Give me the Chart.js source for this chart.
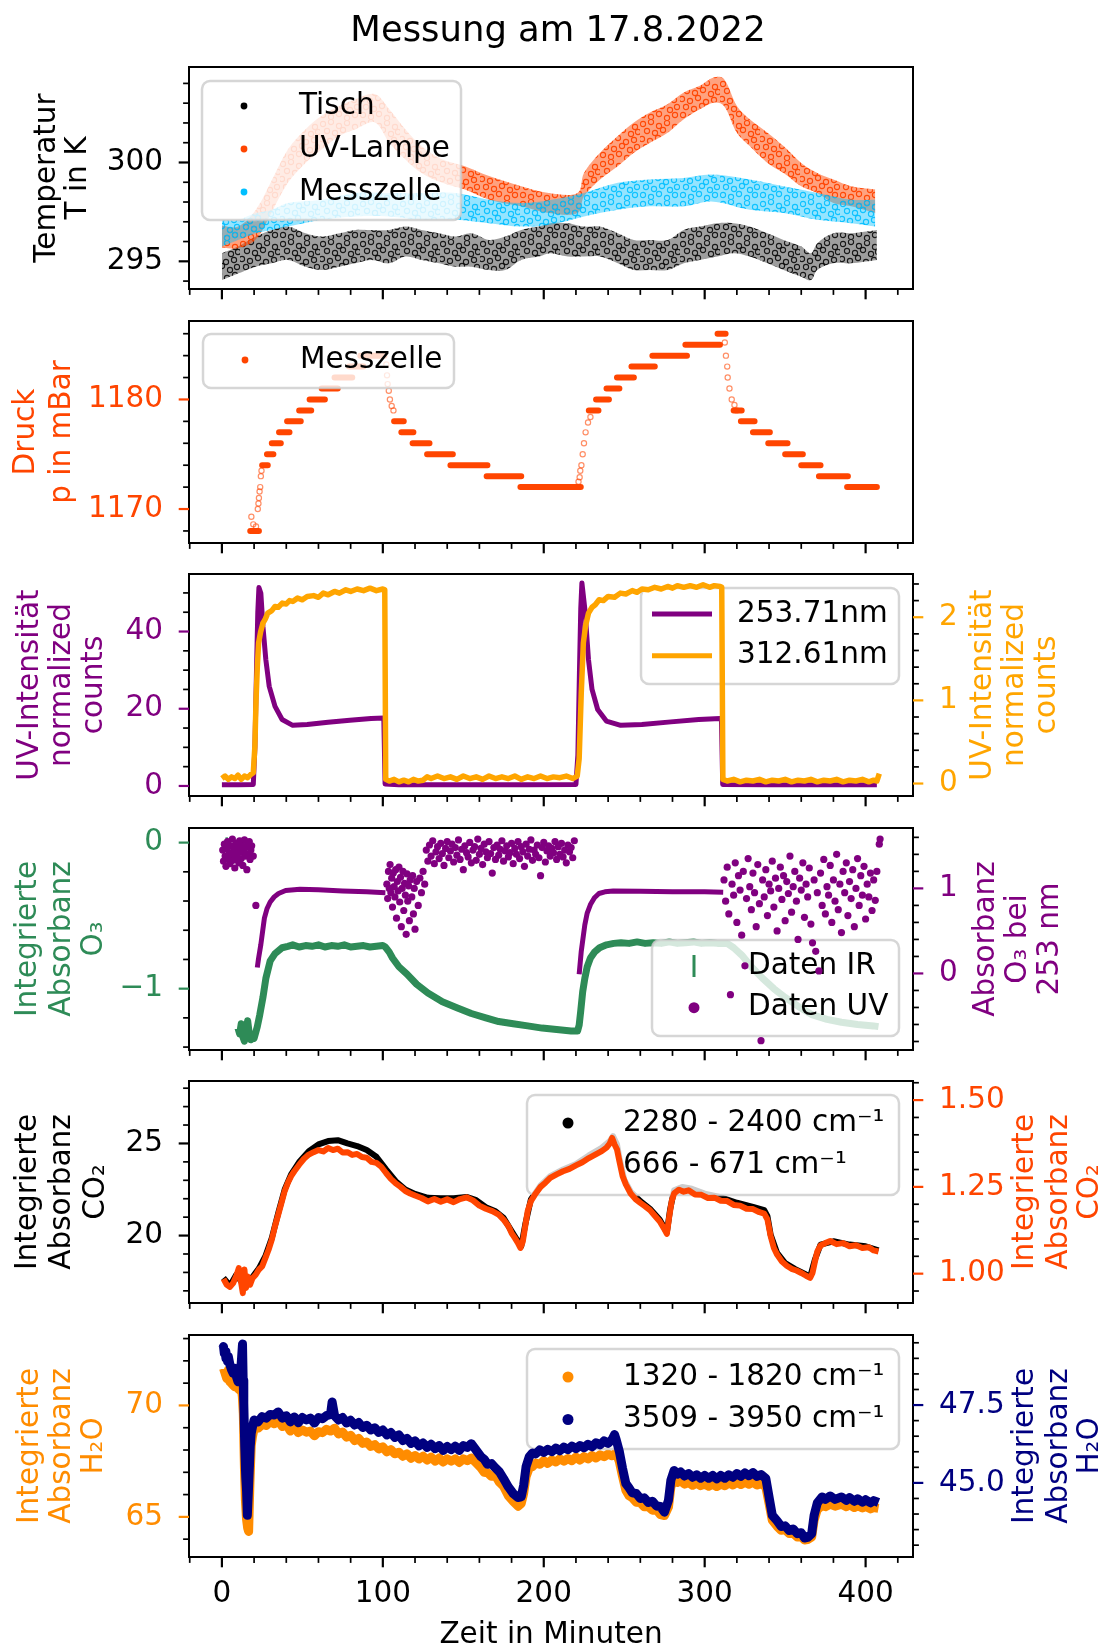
<!DOCTYPE html>
<html>
<head>
<meta charset="utf-8">
<title>Messung am 17.8.2022</title>
<script src="https://cdn.jsdelivr.net/npm/chart.js@4.4.1/dist/chart.umd.min.js"></script>
<style>
  html, body { margin: 0; background: #fff; }
  #wrap { position: relative; width: 1111px; height: 1648px; overflow: hidden; }
  #wrap canvas { position: absolute; left: 0; }
</style>
</head>
<body>
<div id="wrap"></div>
<script>
// ---- data ----
const xTickLabels = [0, 100, 200, 300, 400];

// Temperatur: [t, obere Kante, untere Kante] of each scatter band
const tisch = [[0,295.41,294.05],[10,295.75,294.39],[21,296.25,294.73],[31,296.59,294.9],[41,296.76,295.07],[52,296.42,294.73],[62,296.25,294.56],[73,296.42,294.73],[83,296.59,294.9],[93,296.59,295.07],[104,296.59,294.9],[114,296.76,295.24],[124,296.59,295.07],[135,296.42,294.9],[145,296.25,294.73],[155,296.42,294.73],[166,296.08,294.56],[176,296.25,294.56],[186,296.59,295.07],[197,296.76,295.24],[204,296.93,295.41],[215,296.93,295.24],[225,296.76,295.24],[235,296.76,295.24],[246,296.42,294.9],[256,296.08,294.56],[266,296.08,294.56],[277,296.08,294.56],[287,296.59,294.9],[297,296.76,295.07],[308,296.93,295.24],[318,296.93,295.41],[328,296.76,295.24],[339,296.42,294.9],[349,296.08,294.56],[360,295.75,294.22],[366,295.41,294.05],[370,295.92,294.56],[380,296.42,294.9],[391,296.42,294.9],[407,296.59,295.07]];
const uvLampe = [[0,296.8,295.7],[10,296.76,295.66],[21,297.6,296.1],[31,299.1,297.5],[41,300.66,298.97],[52,301.68,299.98],[62,302.36,300.66],[73,302.86,301.34],[83,303.2,301.68],[95,303.46,302.02],[104,302.69,301.0],[114,301.68,300.15],[124,300.83,299.47],[137,300.15,298.97],[151,299.81,298.63],[166,299.31,298.12],[186,298.8,297.78],[203,298.46,297.44],[221,298.46,297.44],[225,299.47,298.29],[235,300.49,299.14],[246,301.34,299.81],[256,302.02,300.49],[266,302.53,301.0],[277,302.95,301.51],[287,303.54,302.19],[297,303.88,302.69],[306,304.31,303.03],[312,304.22,302.86],[320,302.86,301.51],[328,302.19,300.83],[339,301.51,299.98],[349,300.83,299.47],[360,299.98,298.8],[370,299.47,298.46],[380,299.14,297.95],[391,298.8,297.78],[406,298.63,297.44]];
const messzelleT = [[0,297.1,295.75],[10,297.1,296.08],[21,297.44,296.42],[31,297.61,296.59],[41,297.95,296.76],[62,298.12,297.1],[83,298.46,297.27],[104,298.46,297.27],[124,298.46,297.1],[145,298.46,297.1],[166,298.12,296.93],[186,297.95,296.76],[204,298.1,296.85],[225,298.46,297.27],[246,298.97,297.61],[266,299.14,297.78],[287,299.22,297.78],[304,299.39,298.03],[328,299.14,297.61],[349,298.8,297.44],[370,298.46,297.1],[391,298.12,296.93],[406,298.12,296.76]];

// Druck: [Stufe mBar, von t, bis t] and the sparse points between steps
const druckStufen = [[1168,17.6,23],[1174,25,28.5],[1175,28,32],[1176,31,36.6],[1177,35.5,42],[1178,40.5,49],[1179,48,55.5],[1180,54.5,64],[1181,62,72],[1182,70,81],[1183,79,88],[1184,86,101],[1178,107,113],[1177,111.5,119],[1176,118.5,129],[1175,127.5,143.5],[1174,142,165],[1173,164.5,186],[1172,185.5,223],[1179,228,234],[1180,232.5,240.5],[1181,239,247],[1182,245.5,256],[1183,254.5,269],[1184,267.5,289],[1185,288,309.5],[1186,308,313],[1179,318,323],[1178,322.5,331],[1177,330,340.5],[1176,339.5,351.5],[1175,350,361],[1174,360,372],[1173,371,389],[1172,388.5,407]];
const druckUebergang = [[18.3,1169.3],[19.5,1168.6],[21.2,1168.4],[22.3,1170],[22.7,1170.5],[23,1171],[23.4,1171.6],[23.8,1172],[24.2,1173],[24.6,1173.5],[102.2,1183.2],[102.6,1182.2],[103,1181.4],[103.7,1180.8],[104.4,1180],[105.5,1179.4],[106.6,1179],[221.6,1172.5],[222.3,1172.9],[222.7,1173.5],[223.4,1174],[224.2,1175],[225,1176],[226,1177],[227.5,1177.9],[229,1178.4],[312.5,1185.2],[313.2,1184],[314,1183],[314.3,1182],[315.4,1181],[316.8,1180],[318.5,1179.5],[319.8,1179]];

// UV-Intensität
const uv253 = [[0,0.3],[10,0.3],[19.5,0.4],[20.5,10],[21.5,30],[22.3,45],[23,51.4],[24.2,49.9],[25.5,41.3],[27.3,32.7],[29.4,25.8],[33,20.6],[37.4,17.2],[44,15.7],[53,15.9],[66,16.5],[79.5,17],[92.7,17.5],[100.6,17.6],[101.4,0.5],[110,0.3],[150,0.3],[190,0.3],[220,0.4],[221.2,8],[222.2,30],[223,46],[223.7,52.6],[225.6,45.6],[227.8,32.7],[230,25],[233.5,19.8],[238.9,16.8],[247.8,15.7],[261,15.9],[279,16.6],[296.3,17.2],[309.6,17.5],[310.4,17.5],[311.2,0.4],[340,0.3],[370,0.3],[407,0.3]];
const uv312 = [[0,0.06],[2,0.09],[4,0.05],[6,0.08],[8,0.06],[10,0.1],[12,0.05],[14,0.09],[16,0.07],[18,0.11],[19.5,0.13],[20.5,0.45],[21.2,1.0],[22,1.4],[22.8,1.69],[24,1.82],[25.5,1.93],[27,1.98],[28.5,2.05],[31,2.08],[33,2.13],[35,2.12],[37.5,2.17],[40,2.16],[42,2.2],[44,2.19],[47,2.23],[50,2.21],[53,2.25],[57,2.26],[60,2.24],[63,2.29],[66,2.27],[70,2.31],[73,2.29],[77,2.33],[80,2.31],[84,2.34],[88,2.32],[92,2.35],[96,2.32],[100,2.34],[101.2,2.33],[101.8,0.05],[104,0.03],[107,0.05],[110,0.02],[113,0.04],[116,0.02],[119,0.05],[122,0.03],[125,0.04],[127.5,0.08],[130,0.06],[134,0.09],[138,0.06],[142,0.08],[146,0.05],[150,0.09],[154,0.06],[158,0.08],[162,0.05],[166,0.09],[170,0.06],[174,0.08],[178,0.06],[182,0.09],[186,0.05],[190,0.08],[194,0.06],[198,0.09],[202,0.06],[206,0.08],[210,0.07],[214,0.09],[218,0.06],[220.8,0.09],[222,0.3],[223.3,1.09],[224.6,1.69],[226,1.9],[227.8,2.05],[230,2.12],[232,2.15],[234.4,2.21],[237,2.2],[240,2.25],[244,2.24],[247.6,2.29],[251,2.28],[255,2.32],[258,2.3],[261,2.34],[265,2.33],[269,2.36],[273,2.34],[277,2.37],[280,2.35],[283,2.38],[287,2.36],[291,2.38],[295,2.36],[299,2.39],[303,2.36],[306,2.38],[309.6,2.37],[310.6,2.36],[311.3,0.05],[314,0.03],[318,0.05],[322,0.02],[326,0.04],[330,0.03],[334,0.05],[338,0.02],[342,0.04],[346,0.03],[350,0.05],[354,0.02],[358,0.04],[362,0.03],[366,0.05],[370,0.02],[374,0.04],[378,0.03],[382,0.05],[386,0.02],[390,0.04],[394,0.03],[398,0.05],[402,0.02],[405,0.04],[407,0.03],[408.5,0.12]];

// O3
const o3IR = [[10,-1.27],[11,-1.31],[12,-1.24],[13,-1.33],[14,-1.36],[15,-1.3],[16,-1.22],[17,-1.31],[18,-1.35],[19,-1.32],[20,-1.34],[21,-1.3],[22,-1.26],[23.5,-1.18],[25.5,-1.06],[27.3,-0.93],[30,-0.81],[33,-0.76],[37.4,-0.72],[41,-0.71],[44,-0.7],[48,-0.715],[52,-0.705],[56,-0.71],[60,-0.7],[64,-0.715],[68,-0.705],[72,-0.71],[76,-0.7],[80,-0.715],[84,-0.71],[88,-0.705],[92,-0.715],[96,-0.71],[100,-0.705],[101.6,-0.715],[104,-0.75],[106,-0.79],[110,-0.85],[115,-0.9],[121,-0.97],[128,-1.03],[137,-1.09],[146,-1.13],[155,-1.17],[164,-1.2],[172,-1.225],[181,-1.24],[190,-1.255],[199,-1.27],[208,-1.28],[217,-1.29],[221,-1.29],[222,-1.25],[223,-1.15],[224.2,-1.02],[225.5,-0.93],[227,-0.85],[229,-0.79],[231.5,-0.75],[234.7,-0.72],[239,-0.7],[243.5,-0.69],[248,-0.685],[253,-0.69],[258,-0.68],[263,-0.69],[268,-0.685],[273,-0.69],[278,-0.68],[283,-0.69],[288,-0.685],[293,-0.68],[298,-0.69],[303,-0.685],[308,-0.69],[314,-0.69],[318,-0.72],[323,-0.77],[329,-0.85],[336,-0.93],[343,-1.0],[350,-1.06],[358,-1.12],[367,-1.18],[376,-1.21],[385,-1.23],[395,-1.245],[405,-1.255],[408,-1.26]];
const o3IRrest = [[3,-0.005]];
const o3UVglatt = [[22,0.07],[22.8,0.18],[24.2,0.34],[26.4,0.65],[28,0.76],[30,0.84],[32.5,0.9],[35.2,0.94],[39.6,0.975],[48.5,0.99],[60,0.985],[75,0.97],[90,0.96],[101.6,0.95],[101.8,null],[222,-0.01],[223.3,0.26],[225.5,0.57],[227,0.71],[229,0.81],[231.5,0.89],[234.3,0.94],[238,0.96],[243.2,0.97],[260,0.965],[280,0.96],[300,0.96],[311.5,0.955]];
const o3UVstreu = [
  [0.5,1.45],[1,1.32],[1.5,1.52],[2,1.38],[2.5,1.26],[3,1.47],[3.5,1.55],[4,1.35],[4.5,1.42],[5,1.29],[5.5,1.5],[6,1.4],[6.5,1.58],[7,1.33],[7.5,1.46],[8,1.24],[8.5,1.41],[9,1.53],[9.5,1.37],[10,1.47],[10.5,1.3],[11,1.56],[11.5,1.43],[12,1.35],[12.5,1.5],[13,1.27],[13.5,1.44],[14,1.57],[14.5,1.38],[15,1.48],[15.5,1.22],[16,1.52],[16.5,1.4],[17,1.55],[17.5,1.34],[18,1.45],[18.5,1.5],[19.5,1.38],[21.1,0.8],
  [102.5,1.05],[103,0.88],[103.5,1.2],[104,1.0],[104.5,1.28],[105,0.95],[105.5,1.12],[106,0.78],[106.5,1.18],[107,1.02],[107.5,0.9],[108,1.22],[108.5,0.65],[109,1.08],[109.5,0.97],[110,1.25],[110.5,0.84],[111,1.13],[111.5,0.55],[112,1.0],[112.5,1.2],[113,0.74],[113.5,1.06],[114,0.92],[114.5,0.46],[115,1.17],[115.5,0.85],[116,1.03],[116.5,0.62],[117,1.1],[118,0.9],[118.5,1.15],[119,0.7],[119.5,1.0],[120,0.52],[121,1.08],[122,0.8],[123,1.12],[124,0.95],[125,1.2],[126,1.05],
  [127,1.45],[128,1.32],[129,1.51],[130,1.38],[131,1.56],[132,1.29],[133,1.43],[134,1.49],[135,1.35],[136,1.53],[137,1.41],[138,1.27],[139,1.47],[140,1.55],[141,1.36],[142,1.44],[143,1.52],[144,1.31],[145,1.48],[146,1.39],[147,1.57],[148,1.34],[149,1.46],[150,1.22],[151,1.5],[152,1.42],[153,1.37],[154,1.54],[155,1.3],[156,1.45],[157,1.49],[158,1.33],[159,1.58],[160,1.4],[161,1.47],[162,1.28],[163,1.52],[164,1.43],[165,1.36],[166,1.55],[167,1.41],[168,1.18],[169,1.48],[170,1.34],[171,1.51],[172,1.39],[173,1.46],[174,1.56],[175,1.32],[176,1.44],[177,1.5],[178,1.37],[179,1.42],[180,1.53],[181,1.29],[182,1.47],[183,1.4],[184,1.55],[185,1.35],[186,1.49],[187,1.43],[188,1.26],[189,1.52],[190,1.38],[191,1.46],[192,1.57],[193,1.33],[194,1.45],[195,1.4],[196,1.51],[197,1.36],[198,1.15],[199,1.48],[200,1.54],[201,1.31],[202,1.44],[203,1.5],[204,1.38],[205,1.47],[206,1.42],[207,1.55],[208,1.34],[209,1.49],[210,1.4],[211,1.53],[212,1.37],[213,1.45],[214,1.3],[215,1.51],[216,1.43],[217,1.48],[218,1.36],[219,1.56],
  [312,1.1],[313,0.85],[314,1.25],[315,0.7],[316,-0.25],[317,1.05],[318,0.92],[319,1.3],[320,0.6],[321,1.15],[322,0.98],[323,0.45],[324,1.2],[325,0.09],[326,0.88],[327,1.35],[328,1.02],[329,0.75],[330,1.18],[331,0.95],[332,0.55],[333,1.28],[334,0.82],[335,-0.79],[336,1.1],[337,0.9],[338,1.22],[339,0.68],[340,1.05],[341,0.97],[342,1.32],[343,0.78],[344,1.12],[345,0.5],[346,1.0],[347,1.25],[348,0.87],[349,1.15],[350,0.62],[351,1.08],[352,0.94],[353,1.38],[354,0.72],[355,1.02],[356,1.2],[357,0.85],[358,0.4],[359,1.12],[360,0.98],[361,1.3],[362,0.66],[363,1.05],[364,0.9],[365,1.24],[366,0.58],[367,0.36],[368,1.1],[369,0.26],[370,0.95],[371,0.03],[372,1.18],[373,0.8],[374,1.34],[375,0.7],[376,1.02],[377,0.92],[378,1.27],[379,0.6],[380,1.1],[381,0.85],[382,1.4],[383,0.75],[384,1.05],[385,0.48],[386,1.2],[387,0.95],[388,1.3],[389,0.68],[390,1.08],[391,0.88],[392,1.22],[393,0.55],[394,1.0],[395,1.35],[396,0.8],[397,1.15],[398,0.92],[399,1.26],[400,0.64],[401,1.05],[402,0.9],[403,1.18],[404,0.74],[405,1.1],[406,0.86],[407,1.2],[408.5,1.52],[409,1.58]
];

// CO2
const co2Band1 = [[1,17.7],[5,17.28],[9,17.88],[12,17.5],[15,17.25],[19,17.75],[23,18.22],[27,18.88],[31,19.87],[35,21.23],[39,22.5],[43,23.32],[48,23.99],[54,24.58],[60,24.95],[66,25.13],[72,25.18],[78,25.0],[84,24.86],[90,24.64],[96,24.28],[102,23.59],[108,22.95],[114,22.5],[120,22.26],[128,22.05],[136,22.03],[144,22.03],[152,22.1],[158,21.92],[164,21.54],[170,21.32],[175,20.96],[180,20.24],[184,19.69],[186,19.42],[188.5,20.6],[192,21.96],[198,22.72],[204,23.22],[212,23.59],[220,23.89],[228,24.35],[236,24.76],[241,25.13],[243,25.4],[245.5,24.95],[247,24.22],[250,23.04],[254,22.39],[260,21.87],[266,21.45],[272,20.87],[276.5,20.18],[278.5,21.41],[281,22.46],[286,22.64],[292,22.54],[300,22.28],[310,22.08],[320,21.78],[330,21.56],[337,21.38],[339,21.05],[341,20.05],[345,19.06],[350,18.51],[356,18.19],[362,17.93],[365.5,17.75],[368.5,18.7],[372,19.51],[380,19.69],[390,19.51],[400,19.42],[408,19.2]];
const co2Band2 = [[1,0.985],[3,0.968],[5,0.962],[7,0.973],[9,0.994],[10.5,1.016],[12,0.973],[13,0.944],[14,1.012],[15,0.959],[16,0.992],[17.5,0.968],[19,0.987],[21,0.997],[23,1.012],[25,1.021],[27,1.045],[29,1.069],[31,1.098],[33,1.137],[35,1.17],[37,1.204],[39,1.238],[41,1.262],[43,1.281],[45,1.295],[48,1.314],[51,1.331],[54,1.343],[57,1.35],[60,1.356],[63,1.352],[66,1.362],[69,1.356],[72,1.36],[75,1.349],[78,1.35],[81,1.342],[84,1.345],[87,1.336],[90,1.334],[93,1.322],[96,1.319],[99,1.308],[102,1.29],[105,1.273],[108,1.26],[111,1.25],[114,1.238],[117,1.231],[120,1.225],[124,1.218],[128,1.208],[132,1.215],[136,1.207],[140,1.214],[144,1.206],[148,1.215],[152,1.22],[156,1.211],[160,1.196],[164,1.187],[168,1.18],[172,1.17],[175,1.156],[178,1.137],[180,1.117],[182,1.103],[184,1.088],[185.5,1.074],[187,1.093],[188.5,1.137],[190,1.18],[192,1.209],[195,1.231],[198,1.25],[201,1.262],[204,1.276],[208,1.286],[212,1.295],[216,1.302],[220,1.312],[224,1.321],[228,1.333],[232,1.343],[236,1.353],[239,1.363],[241,1.375],[242.5,1.391],[244,1.372],[245.5,1.358],[247,1.324],[249,1.281],[251,1.257],[254,1.231],[257,1.215],[260,1.204],[263,1.194],[266,1.183],[269,1.167],[272,1.151],[274.5,1.132],[276.5,1.115],[278,1.165],[279.5,1.209],[281,1.231],[284,1.242],[287,1.236],[290,1.24],[294,1.228],[298,1.227],[302,1.218],[306,1.219],[310,1.21],[314,1.209],[318,1.198],[322,1.196],[326,1.187],[330,1.186],[334,1.177],[337,1.173],[339,1.156],[341,1.108],[343,1.074],[345,1.055],[348,1.035],[351,1.023],[354,1.014],[357,1.009],[360,1.002],[363,0.994],[365.5,0.988],[367,1.002],[368.5,1.035],[370,1.064],[372,1.081],[375,1.088],[378,1.094],[382,1.085],[386,1.088],[390,1.079],[394,1.082],[398,1.074],[402,1.076],[405,1.067],[408,1.064]];

// H2O
const h2oBand1 = [[1,71.66],[2,71.44],[3,71.21],[4,71.59],[5,71.06],[6,70.99],[7,70.91],[8,70.84],[9,71.06],[10,70.76],[11,70.69],[12,70.84],[12.7,70.39],[13.3,69.64],[14,67.2],[14.6,65.75],[15.3,64.9],[16,64.5],[16.6,64.35],[17.4,66.5],[18.2,68.2],[19,68.6],[20,68.95],[22.5,68.98],[25,69.15],[27.5,69.1],[30,69.28],[32.5,69.18],[35,69.36],[37.5,69.05],[40,69.16],[42.5,68.85],[45,69.05],[47.5,68.78],[50,68.9],[52.5,68.8],[55,68.85],[57.5,68.64],[60,68.82],[62.5,68.78],[65,68.93],[67.5,68.85],[70,68.98],[72.5,68.72],[75,68.8],[77.5,68.58],[80,68.66],[82.5,68.42],[85,68.52],[87.5,68.3],[90,68.36],[92.5,68.16],[95,68.24],[97.5,68.05],[100,68.14],[102.5,67.92],[105,68.02],[107.5,67.83],[110,67.9],[112.5,67.72],[115,67.83],[117.5,67.63],[120,67.75],[122.5,67.6],[125,67.72],[127.5,67.55],[130,67.68],[132.5,67.5],[135,67.64],[137.5,67.46],[140,67.6],[142.5,67.5],[145,67.6],[147.5,67.44],[150,67.6],[152.5,67.52],[155,67.64],[158,67.42],[161,67.2],[163,67.0],[165,66.98],[167.5,66.82],[170,66.85],[172.5,66.55],[175,66.38],[178,65.95],[181,65.7],[184,65.48],[186,65.6],[187.5,66.05],[189,66.8],[191,67.2],[193,67.26],[195,67.42],[197.5,67.36],[200,67.52],[202.5,67.4],[205,67.55],[207.5,67.46],[210,67.6],[212.5,67.5],[215,67.62],[217.5,67.52],[220,67.68],[222.5,67.55],[225,67.7],[227.5,67.6],[230,67.75],[232.5,67.64],[235,67.78],[237.5,67.7],[240,67.82],[242.5,67.74],[245,67.88],[247,67.47],[249,66.8],[251,66.2],[253,65.95],[255,65.86],[257.5,65.66],[260,65.64],[262.5,65.45],[265,65.46],[267.5,65.3],[270,65.32],[272.5,65.1],[275,65.06],[277.5,65.45],[279,66.35],[281,66.7],[283,66.55],[285,66.62],[287.5,66.47],[290,66.55],[292.5,66.42],[295,66.52],[297.5,66.4],[300,66.47],[302.5,66.38],[305,66.47],[307.5,66.36],[310,66.46],[312.5,66.4],[315,66.52],[317.5,66.43],[320,66.55],[322.5,66.45],[325,66.55],[327.5,66.46],[330,66.55],[332.5,66.43],[335,66.5],[338,66.35],[340,65.6],[342,64.85],[345,64.58],[347.5,64.4],[350,64.42],[352.5,64.25],[355,64.27],[357.5,64.1],[360,64.12],[362,63.96],[364,63.98],[366.5,64.1],[368,64.85],[370,65.33],[373,65.52],[375,65.46],[378,65.57],[381,65.48],[385,65.57],[388,65.46],[390,65.55],[393,65.42],[395,65.5],[398,65.4],[400,65.47],[403,65.36],[405,65.42],[408,65.38]];
const h2oBand2 = [[0.5,49.32],[1,49.38],[1.5,49.16],[2,49.22],[2.5,49.0],[3,49.11],[3.5,48.9],[4,49.06],[5,48.79],[6,48.63],[7,48.52],[8,48.68],[9,48.41],[10,48.25],[11,48.52],[12,48.84],[12.8,49.46],[13.2,48.3],[13.6,47.55],[14.2,46.16],[14.8,45.19],[15.3,44.76],[15.8,43.96],[16.4,44.66],[17,45.41],[17.6,46.16],[18.2,46.59],[19,46.8],[20,47.02],[22.5,46.96],[25,47.13],[27.5,47.08],[30,47.2],[32.5,47.18],[35,47.28],[37.5,47.08],[40,47.16],[42.5,46.96],[45,47.12],[47.5,46.93],[50,47.1],[52.5,47.02],[55,47.08],[57.5,46.92],[60,47.1],[62.5,47.06],[65,47.16],[67.5,47.2],[68.5,47.6],[70,47.16],[72.5,47.02],[75,47.1],[77.5,46.92],[80,47.01],[82.5,46.86],[85,46.94],[87.5,46.78],[90,46.85],[92.5,46.7],[95,46.77],[97.5,46.62],[100,46.7],[102.5,46.54],[105,46.62],[107.5,46.46],[110,46.54],[112.5,46.36],[115,46.43],[117.5,46.27],[120,46.35],[122.5,46.19],[125,46.28],[127.5,46.14],[130,46.24],[132.5,46.1],[135,46.2],[137.5,46.04],[140,46.17],[142.5,46.07],[145,46.18],[147.5,46.04],[150,46.2],[152.5,46.14],[155,46.26],[158,46.05],[161,45.84],[163,45.76],[165,45.6],[167.5,45.62],[170,45.48],[172.5,45.35],[175,45.14],[178,44.87],[181,44.66],[184,44.53],[186,44.55],[187.5,44.92],[189,45.52],[191,45.84],[193,45.96],[195,45.93],[197.5,46.06],[200,45.98],[202.5,46.08],[205,46.0],[207.5,46.12],[210,46.03],[212.5,46.15],[215,46.07],[217.5,46.18],[220,46.1],[222.5,46.2],[225,46.13],[227.5,46.24],[230,46.16],[232.5,46.29],[235,46.22],[237.5,46.35],[240,46.27],[242.5,46.4],[244,46.55],[245,46.39],[247,46.0],[249,45.46],[251,44.98],[253,44.84],[255,44.68],[257.5,44.66],[260,44.5],[262.5,44.52],[265,44.37],[267.5,44.41],[270,44.26],[272.5,44.24],[275,44.06],[277.5,44.44],[279,45.09],[281,45.4],[283,45.28],[285,45.35],[287.5,45.22],[290,45.3],[292.5,45.18],[295,45.26],[297.5,45.15],[300,45.24],[302.5,45.15],[305,45.24],[307.5,45.13],[310,45.24],[312.5,45.15],[315,45.26],[317.5,45.18],[320,45.3],[322.5,45.21],[325,45.32],[327.5,45.23],[330,45.33],[332.5,45.21],[335,45.27],[338,45.14],[340,44.55],[342,43.96],[345,43.78],[347.5,43.6],[350,43.62],[352.5,43.47],[355,43.52],[357.5,43.37],[360,43.4],[362,43.23],[364,43.25],[366.5,43.37],[368,43.96],[370,44.36],[373,44.55],[375,44.47],[378,44.58],[381,44.47],[385,44.55],[388,44.44],[390,44.53],[393,44.41],[395,44.49],[398,44.38],[400,44.46],[403,44.36],[405,44.43],[408,44.37]];

// ---- layout & styles ----
const FS = 29.5;
Chart.defaults.font.family = "'DejaVu Sans', sans-serif";
Chart.defaults.font.size = FS;
Chart.defaults.color = '#000';

const W = 1111, AREA_H = 222, LEFT_W = 189, RIGHT_W = 198;
const PANEL_TOP = [67, 321, 574, 828, 1081, 1335];
const X_MIN = -20.45, X_MAX = 429.45;
const FONT = '"DejaVu Sans", sans-serif';
const ORANGERED = '#ff4500', SKY = '#00bfff', PURPLE = '#800080', ORANGE = '#ffa500',
      SEAGREEN = '#2e8b57', DARKORANGE = '#ff8c00', NAVY = '#000080';
const wrap = document.getElementById('wrap');
const DECO = {};

const xy = (rows, k = 1) => rows.map(r => ({ x: r[0], y: r[k] }));
const minus = v => (v < 0 ? '\u2212' : '') + Math.abs(v);

// small tile of hollow rings, so the bands look like dense scatter
const RING_SPOTS = [[3,4],[11,2],[19,6],[27,3],[35,7],[7,11],[15,13],[23,10],[31,14],[38,12],[2,19],[10,21],[18,18],[26,22],[34,20],[6,27],[14,29],[22,26],[30,30],[37,27],[3,35],[11,37],[19,34],[27,38],[35,35]];
function speckle(rgb, bgA, dotA) {
  const c = document.createElement('canvas');
  c.width = 40; c.height = 40;
  const g = c.getContext('2d');
  g.fillStyle = `rgba(${rgb},${bgA})`;
  g.fillRect(0, 0, 40, 40);
  g.strokeStyle = `rgba(${rgb},${dotA})`;
  g.lineWidth = 1.1;
  RING_SPOTS.forEach(([px, py]) => {
    g.beginPath(); g.arc(px, py, 2.6, 0, 2 * Math.PI); g.stroke();
  });
  return g.createPattern(c, 'repeat');
}

function drawTicks(chart, id, minor, majors, color) {
  const { ctx, chartArea: a } = chart;
  const s = chart.scales[id];
  const lo = Math.min(s.min, s.max), hi = Math.max(s.min, s.max);
  for (let k = Math.ceil(lo / minor - 1e-6); k * minor <= hi + 1e-9; k++) {
    const v = k * minor;
    const major = majors.some(m => Math.abs(m - v) < minor * 0.01);
    const len = major ? 10.3 : 5.9;
    const p = s.getPixelForValue(v);
    ctx.beginPath();
    ctx.lineWidth = major ? 2.2 : 1.7;
    ctx.strokeStyle = major ? color : '#000';
    if (id === 'x') { ctx.moveTo(p, a.bottom); ctx.lineTo(p, a.bottom + len); }
    else if (s.position === 'left') { ctx.moveTo(a.left, p); ctx.lineTo(a.left - len, p); }
    else { ctx.moveTo(a.right, p); ctx.lineTo(a.right + len, p); }
    ctx.stroke();
  }
}

function drawLegend(chart, L) {
  const { ctx, chartArea: a } = chart;
  const x = a.left + L.box[0], y = a.top + L.box[1], w = L.box[2], h = L.box[3], r = 8;
  ctx.save();
  ctx.beginPath();
  ctx.moveTo(x + r, y);
  ctx.arcTo(x + w, y, x + w, y + h, r);
  ctx.arcTo(x + w, y + h, x, y + h, r);
  ctx.arcTo(x, y + h, x, y, r);
  ctx.arcTo(x, y, x + w, y, r);
  ctx.closePath();
  ctx.fillStyle = 'rgba(255,255,255,0.8)';
  ctx.fill();
  ctx.lineWidth = 2.5;
  ctx.strokeStyle = 'rgba(204,204,204,0.8)';
  ctx.stroke();
  ctx.font = FS + 'px ' + FONT;
  ctx.textAlign = 'left';
  ctx.textBaseline = 'middle';
  L.items.forEach(it => {
    const cy = a.top + it.y, mx = a.left + L.mx;
    ctx.fillStyle = it.color;
    ctx.strokeStyle = it.color;
    if (it.kind === 'dot') {
      ctx.beginPath(); ctx.arc(mx, cy, it.r, 0, 2 * Math.PI); ctx.fill();
    } else if (it.kind === 'line') {
      ctx.lineWidth = 5; ctx.beginPath(); ctx.moveTo(mx - 30, cy); ctx.lineTo(mx + 30, cy); ctx.stroke();
    } else if (it.kind === 'vline') {
      ctx.lineWidth = 3; ctx.beginPath(); ctx.moveTo(mx, cy - 11); ctx.lineTo(mx, cy + 11); ctx.stroke();
    }
    ctx.fillStyle = '#000';
    ctx.fillText(it.text, a.left + L.tx, cy);
  });
  ctx.restore();
}

const decoPlugin = {
  id: 'deco',
  afterDatasetDraw(chart, args) {
    const d = DECO[chart.canvas.id];
    if (d.legend && d.legend.after === args.index) drawLegend(chart, d.legend);
  },
  afterDatasetsDraw(chart) {
    const d = DECO[chart.canvas.id];
    if (d.legend && d.legend.after === -1) drawLegend(chart, d.legend);
  },
  afterDraw(chart) {
    const d = DECO[chart.canvas.id];
    const { ctx, chartArea: a } = chart;
    ctx.save();
    ctx.lineWidth = 2;
    ctx.strokeStyle = '#000';
    ctx.strokeRect(a.left, a.top, a.right - a.left, a.bottom - a.top);
    d.ticks.forEach(t => drawTicks(chart, ...t));
    ctx.textAlign = 'center';
    ctx.textBaseline = 'middle';
    ctx.font = FS + 'px ' + FONT;
    (d.ylab || []).forEach(l => {
      ctx.fillStyle = l.color;
      l.lines.forEach((s, i) => {
        ctx.save();
        ctx.translate(l.xs[i], (a.top + a.bottom) / 2);
        ctx.rotate(-Math.PI / 2);
        ctx.fillText(s, 0, 0);
        ctx.restore();
      });
    });
    (d.texts || []).forEach(t => {
      ctx.font = t.size + 'px ' + FONT;
      ctx.fillStyle = '#000';
      ctx.fillText(t.t, t.x, t.y);
    });
    ctx.restore();
  }
};

function yAxis(pos, a) {
  return {
    type: 'linear', position: pos, min: a.min, max: a.max,
    afterBuildTicks: s => { s.ticks = a.labels.map(v => ({ value: v })); },
    afterFit: s => { s.width = pos === 'left' ? LEFT_W : RIGHT_W; s.paddingTop = 0; s.paddingBottom = 0; },
    ticks: { padding: 26, color: a.color, callback: v => (a.fmt ? a.fmt(v) : minus(v)) },
    grid: { display: false, drawTicks: false },
    border: { display: false }
  };
}

function xAxis(showLabels, h) {
  return {
    type: 'linear', position: 'bottom', min: X_MIN, max: X_MAX,
    afterBuildTicks: s => { s.ticks = xTickLabels.map(v => ({ value: v })); },
    afterFit: s => { s.height = h; s.paddingLeft = 0; s.paddingRight = 0; },
    ticks: { display: showLabels, padding: 20, maxRotation: 0, autoSkip: false, color: '#000', callback: v => String(v) },
    grid: { display: false, drawTicks: false },
    border: { display: false }
  };
}

function panel(n, cfg) {
  const top = n === 0 ? 0 : PANEL_TOP[n] - 20;
  const padTop = PANEL_TOP[n] - top;
  const last = n === PANEL_TOP.length - 1;
  const h = last ? 1648 - top : padTop + AREA_H + 32;
  const cv = document.createElement('canvas');
  cv.id = 'panel' + n;
  cv.width = W; cv.height = h;
  cv.style.top = top + 'px';
  cv.style.width = W + 'px';
  cv.style.height = h + 'px';
  wrap.appendChild(cv);
  cfg.deco.ticks.unshift(['x', 20, xTickLabels, '#000']);
  DECO[cv.id] = cfg.deco;
  const scales = { x: xAxis(last, h - padTop - AREA_H), y: yAxis('left', cfg.y) };
  if (cfg.y2) scales.y2 = yAxis('right', cfg.y2);
  return new Chart(cv, {
    type: 'line',
    data: { datasets: cfg.datasets },
    options: {
      responsive: false, animation: false, events: [],
      layout: { autoPadding: false, padding: { top: padTop, left: 0, bottom: 0, right: cfg.y2 ? 0 : RIGHT_W } },
      scales,
      plugins: { legend: { display: false }, tooltip: { enabled: false } },
      elements: { point: { radius: 0 }, line: { tension: 0 } }
    },
    plugins: [decoPlugin]
  });
}

function band(rows, fillStyle, order) {
  const edge = { borderColor: 'rgba(0,0,0,0)', borderWidth: 1, tension: 0.35, order, yAxisID: 'y', pointRadius: 0 };
  return [
    Object.assign({ data: xy(rows, 1), fill: '+1', backgroundColor: fillStyle }, edge),
    Object.assign({ data: xy(rows, 2), fill: false }, edge)
  ];
}

// 1: Temperatur
panel(0, {
  y: { min: 293.6, max: 304.83, labels: [295, 300], color: '#000' },
  datasets: [
    ...band(tisch, speckle('0,0,0', 0.38, 0.85), 3),
    ...band(uvLampe, speckle('255,69,0', 0.5, 0.95), 2),
    ...band(messzelleT, speckle('0,191,255', 0.42, 0.9), 1)
  ],
  deco: {
    ticks: [['y', 1, [295, 300], '#000']],
    ylab: [{ lines: ['Temperatur', 'T in K'], xs: [47, 78], color: '#000' }],
    legend: { after: -1, box: [13, 14, 259, 139], mx: 55, tx: 110, items: [
      { kind: 'dot', r: 3.4, color: '#000', text: 'Tisch', y: 39 },
      { kind: 'dot', r: 3.4, color: ORANGERED, text: 'UV-Lampe', y: 82 },
      { kind: 'dot', r: 3.4, color: SKY, text: 'Messzelle', y: 125 }
    ] },
    texts: [{ t: 'Messung am 17.8.2022', x: 558, y: 32, size: 35.4 }]
  }
});

// 2: Druck
const stufenPunkte = [];
druckStufen.forEach(([p, t0, t1]) => { stufenPunkte.push({ x: t0, y: p }, { x: t1, y: p }, { x: t1, y: null }); });
panel(1, {
  y: { min: 1166.9, max: 1187.16, labels: [1170, 1180], color: ORANGERED },
  datasets: [
    { data: stufenPunkte, borderColor: ORANGERED, borderWidth: 6, borderCapStyle: 'round', pointRadius: 0, order: 2, yAxisID: 'y' },
    { data: xy(druckUebergang), showLine: false, pointRadius: 2.6, pointBackgroundColor: 'rgba(255,255,255,0)',
      pointBorderColor: 'rgba(255,69,0,0.6)', pointBorderWidth: 1.2, order: 1, yAxisID: 'y' }
  ],
  deco: {
    ticks: [['y', 2, [1170, 1180], ORANGERED]],
    ylab: [{ lines: ['Druck', 'p in mBar'], xs: [26.5, 62], color: ORANGERED }],
    legend: { after: -1, box: [14, 13, 251, 54], mx: 56, tx: 111, items: [
      { kind: 'dot', r: 3.4, color: ORANGERED, text: 'Messzelle', y: 39 }
    ] }
  }
});

// 3: UV-Intensität
panel(2, {
  y: { min: -2.6, max: 54.9, labels: [0, 20, 40], color: PURPLE },
  y2: { min: -0.15, max: 2.52, labels: [0, 1, 2], color: ORANGE },
  datasets: [
    { data: xy(uv253), borderColor: PURPLE, borderWidth: 5, borderJoinStyle: 'round', order: 2, yAxisID: 'y' },
    { data: xy(uv312), borderColor: ORANGE, borderWidth: 5.5, borderJoinStyle: 'round', order: 1, yAxisID: 'y2' }
  ],
  deco: {
    ticks: [['y', 5, [0, 20, 40], PURPLE], ['y2', 0.2, [0, 1, 2], ORANGE]],
    ylab: [
      { lines: ['UV-Intensität', 'normalized', 'counts'], xs: [30.6, 62.7, 94.7], color: PURPLE },
      { lines: ['UV-Intensität', 'normalized', 'counts'], xs: [983, 1015, 1047], color: ORANGE }
    ],
    legend: { after: 0, box: [452, 14, 258, 96], mx: 493, tx: 548, items: [
      { kind: 'line', color: PURPLE, text: '253.71nm', y: 40 },
      { kind: 'line', color: ORANGE, text: '312.61nm', y: 81.7 }
    ] }
  }
});

// 4: O3
panel(3, {
  y: { min: -1.42, max: 0.1, labels: [-1, 0], color: SEAGREEN },
  y2: { min: -0.9, max: 1.71, labels: [0, 1], color: PURPLE },
  datasets: [
    { data: xy(o3IR), borderColor: SEAGREEN, borderWidth: 7, borderJoinStyle: 'round', order: 3, yAxisID: 'y' },
    { data: xy(o3IRrest), showLine: false, pointStyle: 'line', rotation: 90, pointRadius: 6, pointBorderColor: SEAGREEN, pointBorderWidth: 2.5, order: 3, yAxisID: 'y' },
    { data: xy(o3UVglatt), borderColor: PURPLE, borderWidth: 5, borderJoinStyle: 'round', order: 2, yAxisID: 'y2' },
    { data: xy(o3UVstreu), showLine: false, pointRadius: 3.6, pointBackgroundColor: PURPLE, pointBorderWidth: 0, order: 1, yAxisID: 'y2' }
  ],
  deco: {
    ticks: [['y', 0.2, [-1, 0], SEAGREEN], ['y2', 0.2, [0, 1], PURPLE]],
    ylab: [
      { lines: ['Integrierte', 'Absorbanz', 'O₃'], xs: [28.5, 62, 94.7], color: SEAGREEN },
      { lines: ['Absorbanz', 'O₃ bei', '253 nm'], xs: [986.5, 1018.5, 1050.6], color: PURPLE }
    ],
    legend: { after: 0, box: [463, 112, 247, 96], mx: 505, tx: 559, items: [
      { kind: 'vline', color: SEAGREEN, text: 'Daten IR', y: 138 },
      { kind: 'dot', r: 5.5, color: PURPLE, text: 'Daten UV', y: 179.7 }
    ] }
  }
});

// 5: CO2
panel(4, {
  y: { min: 16.34, max: 28.39, labels: [20, 25], color: '#000' },
  y2: { min: 0.9155, max: 1.555, labels: [1.0, 1.25, 1.5], color: ORANGERED, fmt: v => v.toFixed(2) },
  datasets: [
    { data: xy(co2Band1), borderColor: '#000', borderWidth: 6, borderJoinStyle: 'round', order: 2, yAxisID: 'y' },
    { data: xy(co2Band2), borderColor: ORANGERED, borderWidth: 6, borderJoinStyle: 'round', order: 1, yAxisID: 'y2' }
  ],
  deco: {
    ticks: [['y', 1, [20, 25], '#000'], ['y2', 0.05, [1.0, 1.25, 1.5], ORANGERED]],
    ylab: [
      { lines: ['Integrierte', 'Absorbanz', 'CO₂'], xs: [28.5, 62, 96], color: '#000' },
      { lines: ['Integrierte', 'Absorbanz', 'CO₂'], xs: [1025.6, 1059, 1090], color: ORANGERED }
    ],
    legend: { after: 0, box: [338, 14, 372, 100], mx: 379, tx: 434, items: [
      { kind: 'dot', r: 5.5, color: '#000', text: '2280 - 2400 cm⁻¹', y: 42 },
      { kind: 'none', color: '#000', text: '666 - 671 cm⁻¹', y: 84.5 }
    ] }
  }
});

// 6: H2O
panel(5, {
  y: { min: 63.2, max: 73.16, labels: [65, 70], color: DARKORANGE },
  y2: { min: 42.62, max: 49.75, labels: [45, 47.5], color: NAVY, fmt: v => v.toFixed(1) },
  datasets: [
    { data: xy(h2oBand1), borderColor: DARKORANGE, borderWidth: 9, borderJoinStyle: 'round', order: 2, yAxisID: 'y' },
    { data: xy(h2oBand2), borderColor: NAVY, borderWidth: 9, borderJoinStyle: 'round', order: 1, yAxisID: 'y2' }
  ],
  deco: {
    ticks: [['y', 1, [65, 70], DARKORANGE], ['y2', 0.5, [45, 47.5], NAVY]],
    ylab: [
      { lines: ['Integrierte', 'Absorbanz', 'H₂O'], xs: [30.6, 62.7, 94.7], color: DARKORANGE },
      { lines: ['Integrierte', 'Absorbanz', 'H₂O'], xs: [1025.6, 1059, 1090], color: NAVY }
    ],
    legend: { after: 0, box: [338, 14, 372, 100], mx: 379, tx: 434, items: [
      { kind: 'dot', r: 5.5, color: DARKORANGE, text: '1320 - 1820 cm⁻¹', y: 42 },
      { kind: 'dot', r: 5.5, color: NAVY, text: '3509 - 3950 cm⁻¹', y: 84.5 }
    ] },
    texts: [{ t: 'Zeit in Minuten', x: 551, y: 320, size: FS }]
  }
});
</script>
</body>
</html>
